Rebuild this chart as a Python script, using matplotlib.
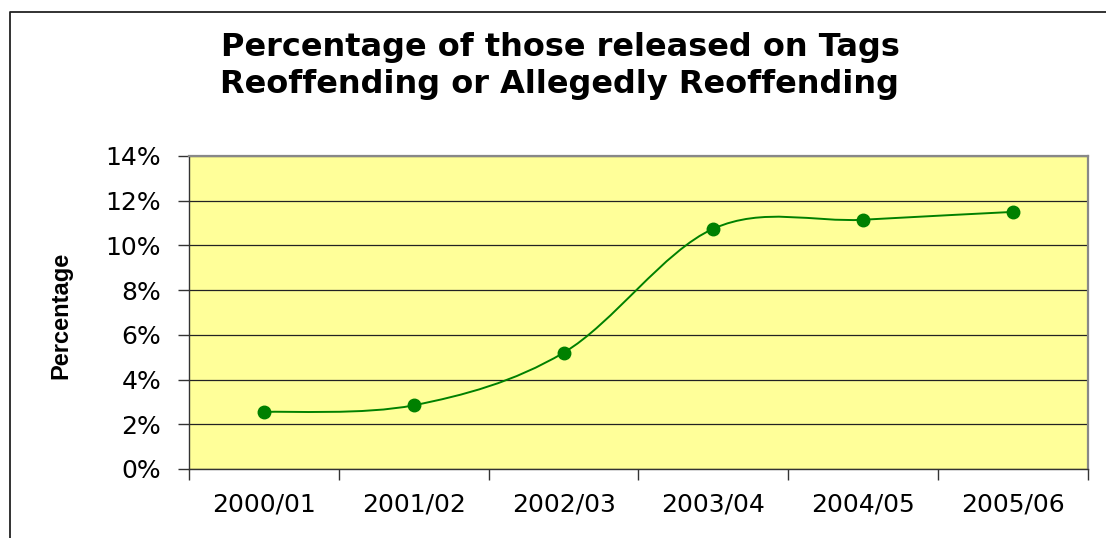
import numpy as np
import matplotlib
matplotlib.use("Agg")
import matplotlib.pyplot as plt
from matplotlib.path import Path
from matplotlib.patches import PathPatch
from matplotlib.lines import Line2D

years = ["2000/01", "2001/02", "2002/03", "2003/04", "2004/05", "2005/06"]
pct = [2.55, 2.85, 5.2, 10.75, 11.15, 11.5]
yticks = [0, 2, 4, 6, 8, 10, 12, 14]


def smooth_path(xs, ys):
  # excel style smoothed line: cubic bezier, catmull-rom control points
  pts = np.column_stack([xs, ys]).astype(float)
  n = len(pts)
  verts = [pts[0]]
  codes = [Path.MOVETO]
  for i in range(n - 1):
    p0 = pts[max(i - 1, 0)]
    p1 = pts[i]
    p2 = pts[i + 1]
    p3 = pts[min(i + 2, n - 1)]
    c1 = p1 + (p2 - p0) / 6.0
    c2 = p2 - (p3 - p1) / 6.0
    verts += [c1, c2, p2]
    codes += [Path.CURVE4] * 3
  return Path(verts, codes)


fig = plt.figure(figsize=(11.06, 5.38), dpi=100)
ax = fig.add_axes([189 / 1106, 1 - 469 / 538, (1088 - 189) / 1106, (469 - 156) / 538])
ax.set_facecolor("#FFFF99")

x = np.arange(len(years))
ax.add_patch(PathPatch(smooth_path(x, pct), facecolor="none", edgecolor="#008000", lw=1.4, zorder=3))
ax.plot(x, pct, linestyle="none", marker="o", markersize=9, color="#008000", zorder=4)

ax.set_xlim(-0.5, len(years) - 0.5)
ax.set_ylim(0, 14)
ax.set_yticks(yticks)
ax.set_yticklabels([f"{v}%" for v in yticks])
ax.set_xticks(x)
ax.set_xticklabels(years)
ax.set_xticks(np.arange(len(years) + 1) - 0.5, minor=True)
ax.tick_params(axis="x", which="major", length=0, pad=17, labelsize=18)
ax.tick_params(axis="x", which="minor", length=8, width=1, color="#333333")
ax.tick_params(axis="y", length=8, width=1, color="#333333", pad=12, labelsize=18)
for lab in ax.get_xticklabels() + ax.get_yticklabels():
  lab.set_fontfamily("DejaVu Sans")

ax.yaxis.grid(True, color="#222222", lw=0.9)
ax.set_axisbelow(True)
for s in ["top", "right"]:
  ax.spines[s].set_color("#888888")
  ax.spines[s].set_linewidth(1.6)
for s in ["left", "bottom"]:
  ax.spines[s].set_color("#333333")
  ax.spines[s].set_linewidth(1.0)

fig.text(560 / 1106, 1 - 66 / 538, "Percentage of those released on Tags\nReoffending or Allegedly Reoffending",
         ha="center", va="center", fontsize=23, fontweight="bold", family="DejaVu Sans", linespacing=1.25)
fig.text(61 / 1106, 1 - 315 / 538, "Percentage", rotation=90, ha="center", va="center",
         fontsize=17, fontweight="bold", family="Liberation Sans")

# outer chart border (left and top edges visible)
fig.add_artist(Line2D([10 / 1106, 10 / 1106, 1.0], [0.0, 1 - 12 / 538, 1 - 12 / 538],
                      transform=fig.transFigure, color="#222222", lw=1.3))

plt.savefig("out.png", dpi=100)
